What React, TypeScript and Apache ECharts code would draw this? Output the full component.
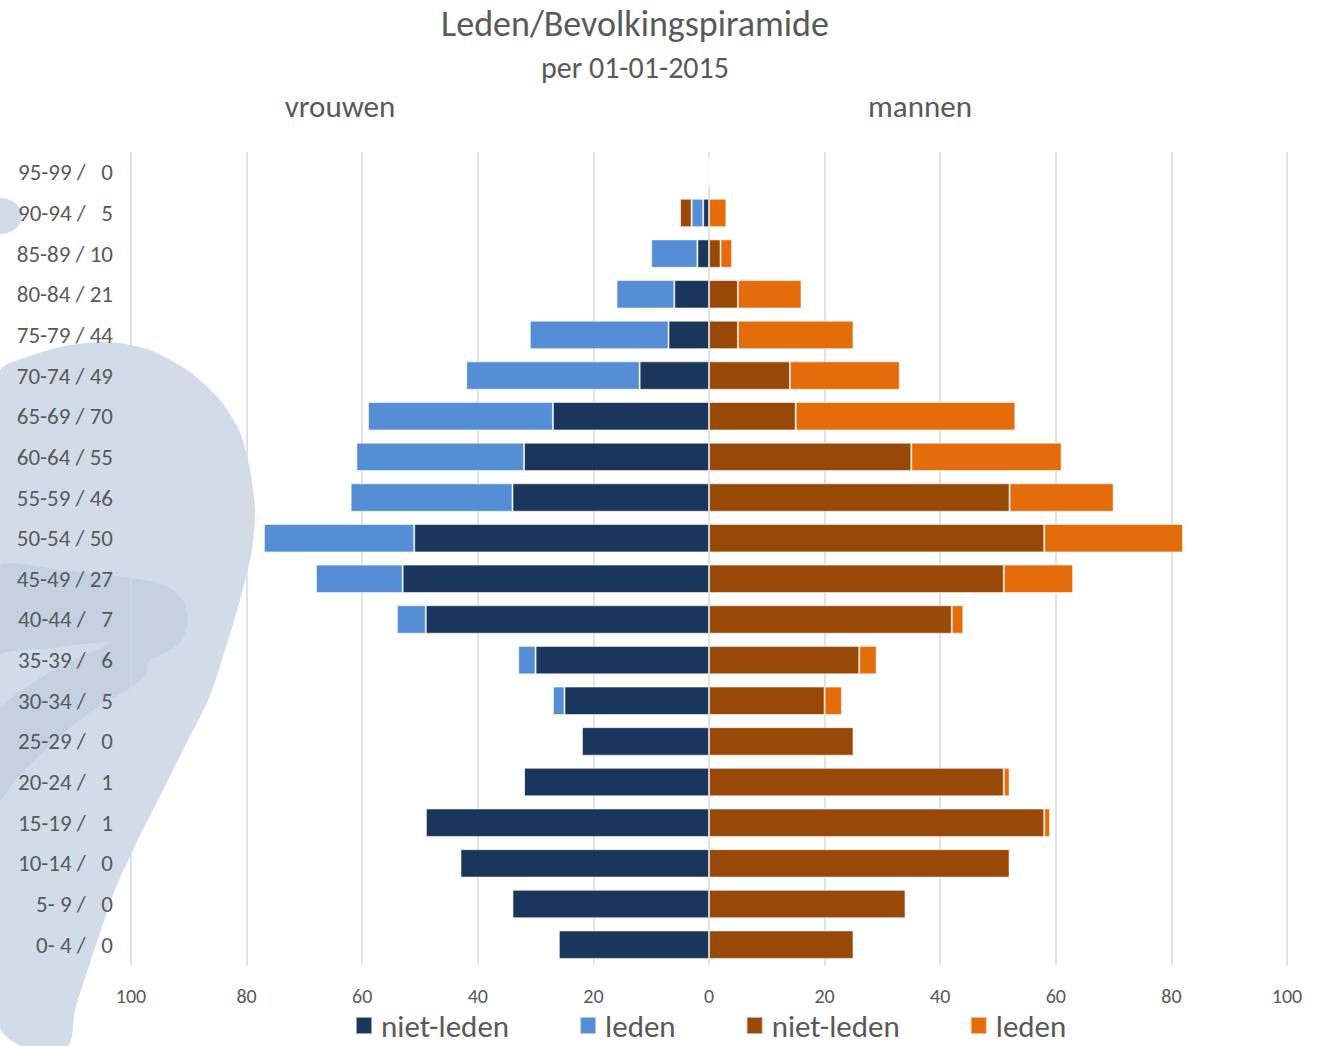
import React, { useEffect, useRef } from "react";
import * as echarts from "echarts";

// bottom-to-top order
const ageGroups = ["0- 4", "5- 9", "10-14", "15-19", "20-24", "25-29", "30-34", "35-39", "40-44", "45-49", "50-54", "55-59", "60-64", "65-69", "70-74", "75-79", "80-84", "85-89", "90-94", "95-99"];
const memberTotals = [0, 0, 0, 1, 1, 0, 5, 6, 7, 27, 50, 46, 55, 70, 49, 44, 21, 10, 5, 0];
const womenNonMembers = [26, 34, 43, 49, 32, 22, 25, 30, 49, 53, 51, 34, 32, 27, 12, 7, 6, 2, 1, 0];
const womenMembers = [0, 0, 0, 0, 0, 0, 2, 3, 5, 15, 26, 28, 29, 32, 30, 24, 10, 8, 2, 0];
const menNonMembers = [25, 34, 52, 58, 51, 25, 20, 26, 42, 51, 58, 52, 35, 15, 14, 5, 5, 2, -2, 0];
const menMembers = [0, 0, 0, 1, 1, 0, 3, 3, 2, 12, 24, 18, 26, 38, 19, 20, 11, 2, 3, 0];
const xTicks = [-100, -80, -60, -40, -20, 0, 20, 40, 60, 80, 100];

const FONT = "Carlito, Lato, 'Open Sans', sans-serif";
const TEXT = "#595959";

const categoryLabels = ageGroups.map((g, i) => {
  const n = memberTotals[i];
  return `${g} / ${n < 10 ? "  " + n : n}`;
});

const seriesNames = ["niet-leden (v)", "leden (v)", "niet-leden (m)", "leden (m)"];

export default function App() {
  const ref = useRef<HTMLDivElement>(null);
  useEffect(() => {
    const chart = echarts.init(ref.current!, null, { renderer: "svg" });
    const wmLight = "#d1dce8";
    const wmDark = "#c3d1e1";
    const barBorder = { borderColor: "rgba(255,255,255,0.55)", borderWidth: 1 };
    chart.setOption({
      animation: false,
      textStyle: { fontFamily: FONT },
      title: [
        {
          text: "Leden/Bevolkingspiramide",
          left: 630,
          top: 1,
          textAlign: "center",
          textStyle: { fontFamily: FONT, fontSize: 36, fontWeight: "normal", color: TEXT },
        },
        {
          text: "per 01-01-2015",
          left: 630,
          top: 47,
          textAlign: "center",
          textStyle: { fontFamily: FONT, fontSize: 30, fontWeight: "normal", color: TEXT },
        },
      ],
      graphic: [
        {
          type: "ellipse",
          z: -10,
          silent: true,
          shape: { cx: 0, cy: 216, rx: 22, ry: 18 },
          style: { fill: wmLight },
        },
        {
          type: "polygon",
          z: -10,
          silent: true,
          shape: {
            smooth: 0.25,
            points: [
              [0, 372], [30, 356], [70, 345], [110, 342], [150, 350], [190, 372], [220, 400],
              [240, 432], [250, 470], [255, 510], [252, 550], [240, 600], [225, 650], [210, 696],
              [185, 746], [160, 796], [135, 846], [115, 890], [90, 963], [75, 1010], [68, 1046],
              [22, 1046], [0, 1027],
            ],
          },
          style: { fill: wmLight },
        },
        {
          type: "polygon",
          z: -9,
          silent: true,
          shape: {
            smooth: 0.2,
            points: [
              [0, 567], [60, 570], [130, 578], [165, 585], [183, 600], [188, 622], [180, 643],
              [160, 655], [148, 662], [146, 675], [130, 688], [100, 705], [70, 728], [40, 755],
              [15, 780], [0, 800],
            ],
          },
          style: { fill: wmDark },
        },
        {
          type: "polygon",
          z: -8,
          silent: true,
          shape: {
            smooth: 0.2,
            points: [[0, 655], [50, 648], [110, 642], [85, 655], [50, 672], [15, 695], [0, 705]],
          },
          style: { fill: wmLight },
        },
        {
          type: "text",
          x: 340,
          y: 106,
          style: {
            text: "vrouwen",
            fill: TEXT,
            font: `31px ${FONT}`,
            textAlign: "center",
            textVerticalAlign: "middle",
          },
        },
        {
          type: "text",
          x: 920,
          y: 106,
          style: {
            text: "mannen",
            fill: TEXT,
            font: `31px ${FONT}`,
            textAlign: "center",
            textVerticalAlign: "middle",
          },
        },
      ],
      legend: {
        left: 355,
        top: 1010,
        padding: 0,
        icon: "rect",
        itemWidth: 16,
        itemHeight: 17,
        itemGap: 70,
        data: seriesNames,
        formatter: (name: string) => name.replace(/ \((v|m)\)$/, ""),
        textStyle: { fontFamily: FONT, fontSize: 31, color: TEXT, padding: [0, 0, 0, 4] },
      },
      grid: { left: 131, right: 31, top: 152, bottom: 81 },
      xAxis: {
        type: "value",
        min: xTicks[0],
        max: xTicks[xTicks.length - 1],
        interval: 20,
        axisLine: { show: false },
        axisTick: { show: false },
        splitLine: { show: true, lineStyle: { color: "#d9d9d9", width: 1.5 } },
        axisLabel: {
          formatter: (v: number) => String(Math.abs(v)),
          fontSize: 20,
          color: TEXT,
          margin: 21,
          fontFamily: FONT,
        },
      },
      yAxis: {
        type: "category",
        data: categoryLabels,
        axisLine: { show: false },
        axisTick: { show: false },
        splitLine: { show: false },
        axisLabel: { fontSize: 23, color: TEXT, margin: 18, fontFamily: FONT },
      },
      series: [
        {
          name: seriesNames[0],
          type: "bar",
          stack: "total",
          barCategoryGap: "30%",
          data: womenNonMembers.map((v) => -v),
          itemStyle: { color: "#1a365d", ...barBorder },
        },
        {
          name: seriesNames[1],
          type: "bar",
          stack: "total",
          barCategoryGap: "30%",
          data: womenMembers.map((v) => -v),
          itemStyle: { color: "#558ed5", ...barBorder },
        },
        {
          name: seriesNames[2],
          type: "bar",
          stack: "total",
          barCategoryGap: "30%",
          data: menNonMembers,
          itemStyle: { color: "#984807", ...barBorder },
        },
        {
          name: seriesNames[3],
          type: "bar",
          stack: "total",
          barCategoryGap: "30%",
          data: menMembers,
          itemStyle: { color: "#e46c0a", ...barBorder },
        },
      ],
    });
    return () => chart.dispose();
  }, []);
  return (
    <div
      ref={ref}
      style={{ position: "fixed", left: 0, top: 0, width: 1318, height: 1046, background: "#ffffff" }}
    />
  );
}
